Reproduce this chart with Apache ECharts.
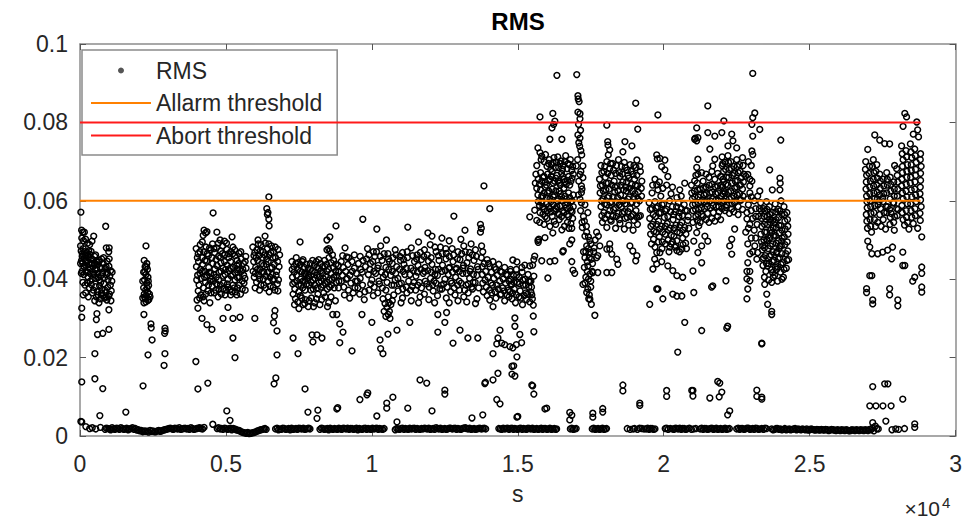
<!DOCTYPE html>
<html>
<head>
<meta charset="utf-8">
<script src="https://cdn.jsdelivr.net/npm/echarts@6/dist/echarts.min.js"></script>
<style>html,body{margin:0;padding:0;background:#fff;}#chart{width:965px;height:520px;}</style>
</head>
<body>
<div id="chart"></div>
<script>
const FONT = '"Liberation Sans", Arial, Helvetica, sans-serif';
const xTickLabels = ['0','0.5','1','1.5','2','2.5','3'];
const yTickLabels = ['0','0.02','0.04','0.06','0.08','0.1'];
const allarmThreshold = [[0,0.06],[28800,0.06]];
const abortThreshold = [[0,0.08],[28800,0.08]];

// RMS samples [time s, rms]
const rmsBaseline = [
[60,.0036],[200,.0024],[330,.0019],[420,.0021],[540,.0018],[700,.0022],
[860,.0017],[950,.0019],[1050,.0016],[1150,.0018],[1250,.0020],[1350,.0017],[1450,.0019],[1550,.0018],[1650,.0016],[1750,.0019],[1850,.0017],[1950,.0015],[2050,.0013],[2150,.0011],[2250,.0012],[2350,.0010],[2450,.0012],[2550,.0011],[2650,.0013],[2750,.0012],[2850,.0015],[2950,.0017],[3050,.0019],[3150,.0018],[3250,.0020],[3350,.0018],[3450,.0017],[3550,.0019],[3650,.0018],[3750,.0017],[3850,.0019],[3950,.0018],[4050,.0020],[4150,.0019],[4250,.0022],[4550,.0030],[4700,.0019],[4800,.0018],[4900,.0017],[5000,.0019],[5100,.0018],[5200,.0016],[5300,.0018],[5400,.0015],[5500,.0012],[5600,.0009],[5700,.0007],[5800,.0006],[5900,.0008],[6000,.0010],[6100,.0013],[6200,.0016],[6300,.0018],[6380,.0017],
[6700,.0018],[6800,.0016],[6900,.0017],[7000,.0019],[7100,.0018],[7200,.0016],[7300,.0017],[7400,.0019],[7500,.0020],[7600,.0018],[7700,.0017],[7800,.0019],[7880,.0018],
[8220,.0017],[8320,.0019],[8420,.0018],[8520,.0016],[8620,.0018],[8720,.0019],[8820,.0017],[8920,.0018],[9020,.0020],[9120,.0018],[9220,.0017],[9320,.0019],[9420,.0018],[9520,.0016],[9620,.0018],[9720,.0019],[9820,.0017],[9920,.0018],[10020,.0020],[10120,.0019],[10220,.0017],[10320,.0018],[10420,.0019],
[10800,.0016],[10900,.0018],[11000,.0019],[11100,.0017],[11200,.0018],[11300,.0020],[11400,.0019],[11500,.0017],[11600,.0018],[11700,.0019],[11800,.0020],[11900,.0018],[12000,.0017],[12100,.0019],[12200,.0021],[12300,.0018],[12400,.0017],[12500,.0019],[12600,.0018],[12700,.0020],[12800,.0019],[12900,.0017],[13000,.0018],[13100,.0019],[13200,.0021],[13300,.0018],[13400,.0017],[13500,.0019],[13600,.0018],[13700,.0020],[13800,.0019],[13900,.0018],
[14350,.0019],[14450,.0017],[14550,.0018],[14650,.0020],[14750,.0019],[14850,.0017],[14950,.0018],[15050,.0019],[15150,.0017],[15250,.0018],[15350,.0020],[15450,.0018],[15550,.0017],[15650,.0019],[15750,.0018],[15850,.0017],[15950,.0019],[16050,.0018],[16150,.0017],[16250,.0019],[16330,.0018],
[16800,.0018],[16900,.0017],[17000,.0019],
[17550,.0018],[17650,.0017],[17750,.0019],[17850,.0018],[17950,.0017],[18040,.0019],
[18750,.0019],[18950,.0018],[19100,.0017],[19250,.0019],[19400,.0018],[19500,.0017],[19600,.0019],[19700,.0018],
[20050,.0019],[20150,.0017],[20300,.0018],[20400,.0020],[20500,.0018],[20600,.0017],[20700,.0019],[20800,.0018],[20950,.0017],[21100,.0019],
[21250,.0018],[21350,.0017],[21450,.0019],[21550,.0018],[21650,.0020],[21750,.0018],[21850,.0017],[21950,.0019],[22050,.0018],[22150,.0017],[22250,.0019],
[22500,.0018],[22600,.0017],[22700,.0019],[22800,.0018],[22900,.0020],[23000,.0018],[23100,.0017],[23200,.0019],[23300,.0018],[23420,.0017],[23520,.0019],
[23700,.0018],[23800,.0017],[23900,.0019],[24000,.0018],[24100,.0017],[24200,.0016],[24300,.0018],[24400,.0017],[24500,.0019],[24600,.0018],[24700,.0016],[24800,.0017],[24900,.0018],[25000,.0016],[25100,.0017],[25200,.0015],[25300,.0016],[25400,.0017],[25500,.0015],[25600,.0016],[25700,.0015],[25800,.0016],[25900,.0014],[26000,.0015],[26100,.0016],[26200,.0014],[26300,.0015],[26400,.0014],[26500,.0015],[26600,.0016],[26700,.0014],[26800,.0015],[26900,.0016],[27000,.0014],[27050,.0017],
[27150,.0020],[27250,.0025],[27350,.0018],[27820,.0016],[27950,.0018],[28050,.0017],[28250,.0019],[28600,.0022]
];

const rmsBaseline2 = [
[900,.0020],[1000,.0018],[1100,.0021],[1200,.0017],[1300,.0019],[1400,.0021],[1500,.0017],[1600,.0020],[1700,.0018],[1800,.0021],[1900,.0019],[2000,.0016],[2100,.0014],[2200,.0013],[2300,.0012],[2400,.0014],[2500,.0013],[2600,.0011],[2700,.0014],[2800,.0013],[2900,.0016],[3000,.0018],[3100,.0020],[3200,.0017],[3300,.0019],[3400,.0021],[3500,.0018],[3600,.0020],[3700,.0019],[3800,.0021],[3900,.0017],[4000,.0019],[4100,.0021],[4200,.0018],[4750,.0021],[4850,.0019],[4950,.0020],[5050,.0017],[5150,.0020],[5250,.0019],[5350,.0016],[5450,.0014],[5550,.0010],[5650,.0008],[5750,.0009],[5850,.0007],[5950,.0009],[6050,.0012],[6150,.0015],[6250,.0017],[6340,.0019],
[6750,.0020],[6850,.0018],[6950,.0020],[7050,.0017],[7150,.0019],[7250,.0020],[7350,.0018],[7450,.0017],[7550,.0019],[7650,.0020],[7750,.0018],[7840,.0020],
[8270,.0020],[8370,.0017],[8470,.0019],[8570,.0020],[8670,.0017],[8770,.0018],[8870,.0020],[8970,.0017],[9070,.0019],[9170,.0020],[9270,.0019],[9370,.0017],[9470,.0020],[9570,.0019],[9670,.0017],[9770,.0020],[9870,.0019],[9970,.0017],[10070,.0018],[10170,.0020],[10270,.0019],[10370,.0017],
[10850,.0019],[10950,.0017],[11050,.0020],[11150,.0019],[11250,.0017],[11350,.0018],[11450,.0020],[11550,.0019],[11650,.0017],[11750,.0018],[11850,.0019],[11950,.0020],[12050,.0018],[12150,.0017],[12250,.0019],[12350,.0020],[12450,.0018],[12550,.0017],[12650,.0020],[12750,.0018],[12850,.0020],[12950,.0019],[13050,.0017],[13150,.0020],[13250,.0019],[13350,.0020],[13450,.0018],[13550,.0017],[13650,.0019],[13750,.0018],[13850,.0020],
[14400,.0018],[14500,.0020],[14600,.0019],[14700,.0017],[14800,.0020],[14900,.0019],[15000,.0017],[15100,.0020],[15200,.0019],[15300,.0017],[15400,.0019],[15500,.0020],[15600,.0018],[15700,.0017],[15800,.0020],[15900,.0019],[16000,.0017],[16100,.0020],[16200,.0018],[16300,.0017],
[16850,.0020],[16950,.0018],[17600,.0020],[17700,.0018],[17800,.0017],[17900,.0020],[18000,.0018],[18850,.0017],[19000,.0019],[19175,.0020],[19325,.0018],[19450,.0020],[19550,.0019],[19650,.0017],
[20100,.0020],[20225,.0019],[20350,.0017],[20450,.0019],[20550,.0020],[20650,.0019],[20750,.0017],[20875,.0020],[21025,.0018],
[21300,.0020],[21400,.0019],[21500,.0017],[21600,.0019],[21700,.0017],[21800,.0020],[21900,.0018],[22000,.0017],[22100,.0020],[22200,.0018],
[22550,.0020],[22650,.0019],[22750,.0017],[22850,.0020],[22950,.0017],[23050,.0019],[23150,.0020],[23250,.0017],[23360,.0019],[23470,.0020],
[23750,.0016],[23850,.0019],[23950,.0017],[24050,.0016],[24150,.0019],[24250,.0017],[24350,.0016],[24450,.0018],[24550,.0016],[24650,.0017],[24750,.0018],[24850,.0016],[24950,.0015],[25050,.0018],[25150,.0016],[25250,.0017],[25350,.0015],[25450,.0016],[25550,.0017],[25650,.0014],[25750,.0017],[25850,.0015],[25950,.0016],[26050,.0014],[26150,.0015],[26250,.0016],[26350,.0013],[26450,.0016],[26550,.0014],[26650,.0015],[26750,.0016],[26850,.0014],[26950,.0015],[27100,.0016],[27200,.0013],[27300,.0019]
];

const rmsSegA = [
[30,.0571],[880,.0535],[900,.0480],[60,.0505],[120,.0498],[190,.0502],[260,.0492],[330,.0488],[410,.0497],[470,.0510],
[40,.0472],[80,.0465],[110,.0478],[150,.0470],[200,.0461],[240,.0468],[290,.0455],[340,.0463],[380,.0471],[430,.0450],[500,.0458],[560,.0446],
[50,.0447],[90,.0441],[140,.0452],[180,.0436],[230,.0443],[270,.0430],[310,.0438],[360,.0426],[400,.0441],[450,.0432],[520,.0425],[590,.0437],[640,.0444],[690,.0430],[740,.0452],[800,.0440],[860,.0428],[930,.0446],[990,.0433],[1050,.0422],
[70,.0420],[130,.0412],[210,.0418],[280,.0405],[350,.0414],[420,.0400],[480,.0411],[540,.0402],[610,.0415],[660,.0398],[720,.0409],[780,.0417],[840,.0404],[900,.0412],[960,.0399],[1020,.0408],[1090,.0395],
[100,.0392],[170,.0385],[250,.0390],[320,.0378],[390,.0386],[460,.0372],[530,.0381],[600,.0368],[670,.0383],[750,.0374],[820,.0388],[880,.0366],[950,.0379],[1010,.0362],[1070,.0370],
[560,.0355],[620,.0360],[700,.0350],[770,.0358],[840,.0352],[920,.0347],[980,.0356],
[60,.0326],[60,.0303],[580,.0312],[560,.0297],[990,.0322],[600,.0259],[780,.0262],[990,.0272],[510,.0210],[60,.0138],[510,.0146],[780,.0121],[680,.0052],[1570,.0061],[30,.0037],[1000,.0480],[1000,.0452],
[20,.0485],[75,.0458],[135,.0432],[165,.0462],[215,.0447],[265,.0418],[300,.0472],[345,.0395],[395,.0452],[445,.0418],[490,.0440],[535,.0462],[575,.0425],[625,.0405],[665,.0448],[710,.0392],[760,.0428],[810,.0455],[850,.0372],[895,.0432],[945,.0415],[985,.0470],[1040,.0385],[1100,.0418],[20,.0440],[45,.0415],[110,.0360],[195,.0365],[285,.0355],[425,.0365],[505,.0345],[650,.0340],[735,.0365],[905,.0355],[1060,.0345],[150,.0520],[95,.0520],[55,.0525]
];

const rmsSegB = [
[2260,.0485],[2200,.0448],[2290,.0440],[2230,.0432],[2310,.0425],[2180,.0418],[2260,.0412],[2330,.0405],[2210,.0398],[2290,.0390],[2350,.0384],[2180,.0378],[2250,.0372],[2320,.0366],[2200,.0362],[2270,.0358],[2380,.0362],[2240,.0350],[2330,.0346],[2190,.0340],[2400,.0355],
[2190,.0310],[2430,.0286],[2440,.0276],[2470,.0245],[2330,.0207],[2160,.0128],[2910,.0275],[2920,.0268],[2900,.0262],[2910,.0210],[2880,.0180],
[2150,.0395],[2220,.0418],[2280,.0432],[2340,.0395],[2210,.0355],[2300,.0378],[2360,.0348],[2260,.0342],[2150,.0352]
];

const rmsSegC = [
[4560,.0569],[4250,.0525],[4300,.0518],[4350,.0521],[4220,.0512],[4690,.0520],[5210,.0508],[4800,.0500],[4950,.0497],
[3980,.0478],[4050,.0465],[4120,.0488],[4180,.0455],[4250,.0470],[4320,.0482],[4400,.0460],[4470,.0475],[4540,.0490],[4610,.0468],[4680,.0480],[4750,.0458],[4820,.0472],[4890,.0485],[4960,.0462],[5030,.0476],[5100,.0455],[5170,.0470],[5240,.0482],[5310,.0460],[5380,.0448],[5450,.0466],[5520,.0452],[5600,.0440],[5680,.0458],
[3990,.0432],[4060,.0445],[4130,.0425],[4200,.0438],[4270,.0420],[4340,.0446],[4410,.0430],[4480,.0415],[4550,.0440],[4620,.0426],[4690,.0435],[4760,.0418],[4830,.0442],[4900,.0428],[4970,.0412],[5040,.0436],[5110,.0422],[5180,.0408],[5250,.0430],[5320,.0416],[5390,.0425],[5460,.0405],[5530,.0420],[5610,.0410],[5690,.0428],
[4000,.0398],[4080,.0385],[4150,.0402],[4230,.0378],[4300,.0392],[4380,.0370],[4460,.0395],[4530,.0382],[4600,.0365],[4680,.0388],[4760,.0375],[4840,.0362],[4920,.0390],[5000,.0372],[5080,.0380],[5160,.0360],[5240,.0385],[5320,.0368],[5400,.0378],[5500,.0362],[5620,.0390],
[4010,.0347],[4040,.0326],[4180,.0300],[4350,.0284],[4520,.0272],[4100,.0352],[4250,.0345],[4450,.0340],[3970,.0190],[4040,.0120],[4380,.0135],[4900,.0300],[5240,.0300],[5480,.0303],[5070,.0328],[5240,.0250],[5310,.0200],[5030,.0064],[5140,.0040],[5990,.0300],
[4020,.0455],[4110,.0470],[4190,.0495],[4280,.0448],[4360,.0465],[4440,.0480],[4520,.0455],[4590,.0478],[4660,.0450],[4740,.0492],[4810,.0455],[4880,.0465],[4950,.0445],[5020,.0492],[5090,.0465],[5160,.0445],[5230,.0465],[5300,.0475],[5370,.0435],[5440,.0440],[5510,.0470],[5580,.0425],[5660,.0445],
[4030,.0410],[4110,.0415],[4190,.0420],[4270,.0405],[4350,.0410],[4430,.0418],[4510,.0400],[4590,.0412],[4670,.0405],[4750,.0398],[4830,.0420],[4910,.0408],[4990,.0425],[5070,.0400],[5150,.0428],[5230,.0412],[5310,.0398],[5390,.0405],[5470,.0425],[5560,.0395],[5650,.0402],
[4050,.0370],[4140,.0360],[4220,.0355],[4310,.0362],[4400,.0385],[4490,.0365],[4570,.0395],[4650,.0372],[4730,.0355],[4810,.0385],[4890,.0375],[4970,.0360],[5050,.0388],[5130,.0372],[5210,.0368],[5290,.0378],[5370,.0360],[5460,.0385],[5560,.0375],[5660,.0372]
];

const rmsSegD = [
[6470,.0610],[6400,.0580],[6440,.0570],[6420,.0565],[6470,.0553],[6480,.0536],[6100,.0500],[6340,.0510],
[5920,.0482],[5990,.0468],[6060,.0475],[6130,.0460],[6200,.0488],[6270,.0470],[6350,.0492],[6420,.0478],[6490,.0462],[6560,.0485],[6630,.0470],[6700,.0455],[6780,.0476],
[5950,.0445],[6020,.0430],[6090,.0448],[6160,.0425],[6230,.0440],[6300,.0418],[6380,.0438],[6450,.0445],[6520,.0428],[6590,.0412],[6660,.0438],[6740,.0420],[6820,.0432],
[5970,.0405],[6050,.0392],[6120,.0410],[6200,.0385],[6280,.0400],[6360,.0378],[6440,.0395],[6520,.0382],[6600,.0398],[6680,.0372],[6760,.0388],
[6680,.0320],[6660,.0306],[6630,.0289],[6750,.0268],[6750,.0207],[6710,.0148],[6650,.0133],
[5960,.0460],[6030,.0455],[6110,.0490],[6180,.0472],[6250,.0455],[6330,.0462],[6400,.0452],[6470,.0490],[6540,.0468],[6610,.0455],[6690,.0482],[6770,.0445],[6840,.0462],[5930,.0420],[6010,.0415],[6080,.0425],[6150,.0400],[6220,.0418],[6290,.0435],[6370,.0408],[6440,.0418],[6510,.0405],[6580,.0430],[6650,.0400],[6720,.0410],[6800,.0398],[6000,.0378],[6150,.0372],[6300,.0385],[6480,.0368],[6620,.0380],[6780,.0370]
];

const rmsSegE = [
[7540,.0495],[7640,.0450],[8460,.0500],[8560,.0508],[8460,.0475],[8520,.0478],[8560,.0472],[8770,.0536],[8650,.0462],
[7260,.0445],[7330,.0432],[7400,.0440],[7470,.0425],[7540,.0436],[7610,.0418],[7680,.0430],[7750,.0412],[7820,.0428],[7890,.0440],[7960,.0422],[8030,.0435],[8100,.0445],[8170,.0428],[8240,.0440],[8310,.0432],[8380,.0448],[8450,.0438],[8520,.0425],[8600,.0442],[8680,.0430],[8760,.0420],[8850,.0435],
[7280,.0405],[7350,.0392],[7420,.0410],[7490,.0385],[7560,.0400],[7630,.0378],[7700,.0395],[7770,.0388],[7840,.0405],[7910,.0372],[7980,.0398],[8050,.0385],[8120,.0410],[8190,.0392],[8260,.0380],[8330,.0402],[8400,.0390],[8470,.0375],[8540,.0398],[8620,.0385],[8700,.0405],[8780,.0392],[8860,.0378],
[7300,.0362],[7380,.0350],[7460,.0342],[7550,.0358],[7640,.0335],[7730,.0348],[7820,.0330],[7930,.0352],[8040,.0340],[8150,.0362],[8280,.0348],[8400,.0355],[8520,.0340],
[7300,.0250],[7470,.0210],[7950,.0258],[8120,.0258],[8290,.0250],[7980,.0240],[7710,.0120],[7810,.0061],[8150,.0066],[8120,.0045],[8660,.0310],[8800,.0310],[8900,.0286],[9010,.0265],[8900,.0238],[8800,.0069],[8830,.0072],[9320,.0217],[9590,.0093],[9830,.0105],
[7270,.0425],[7340,.0418],[7410,.0455],[7480,.0442],[7550,.0420],[7620,.0445],[7690,.0415],[7760,.0438],[7830,.0410],[7900,.0425],[7970,.0448],[8040,.0418],[8110,.0430],[8180,.0450],[8250,.0422],[8320,.0415],[8390,.0432],[8460,.0420],[8530,.0455],[8610,.0415],[8690,.0448],[8770,.0438],[8860,.0418],
[7290,.0388],[7360,.0375],[7430,.0395],[7500,.0368],[7570,.0385],[7640,.0395],[7710,.0372],[7780,.0402],[7850,.0385],[7920,.0392],[7990,.0375],[8060,.0402],[8130,.0378],[8200,.0405],[8270,.0395],[8340,.0385],[8410,.0408],[8480,.0392],[8550,.0380],[8630,.0398],[8710,.0378],[8790,.0410],[8870,.0395],
[7350,.0335],[7500,.0325],[7600,.0352],[7700,.0338],[7850,.0345],[8000,.0330],[8100,.0350],[8220,.0335],[8350,.0365],[8480,.0330],[8600,.0355],[8750,.0345]
];

const rmsSegF = [
[9080,.0480],[9140,.0457],[9690,.0553],[9660,.0310],
[8950,.0445],[9020,.0430],[9100,.0420],[9180,.0438],[9250,.0410],[9320,.0445],[9400,.0428],[9470,.0415],[9540,.0440],[9620,.0425],[9700,.0448],[9780,.0432],
[8960,.0395],[9040,.0380],[9120,.0400],[9200,.0372],[9280,.0390],[9360,.0365],[9440,.0395],[9520,.0378],[9600,.0402],[9680,.0385],[9760,.0368],
[9000,.0460],[9200,.0455],[9400,.0462],[9600,.0458],[8990,.0410],[9160,.0402],[9330,.0420],[9500,.0395],[9670,.0418],[9060,.0360],[9240,.0352],[9420,.0378],[9580,.0362],[9740,.0348]
];

const rmsSegG = [
[10170,.0528],[11230,.0533],[12810,.0561],[13190,.0525],[11920,.0518],[12060,.0510],[13720,.0540],[13750,.0530],[10500,.0500],[11600,.0495],[12400,.0505],[12650,.0498],[13050,.0502],[13400,.0490],
[9850,.0478],[10050,.0470],[10300,.0485],[10550,.0465],[10800,.0475],[11050,.0468],[11350,.0480],[11550,.0462],[11800,.0475],[12000,.0488],[12200,.0470],[12350,.0482],[12550,.0466],[12750,.0478],[12950,.0470],[13150,.0485],[13350,.0468],[13550,.0475],
[9820,.0452],[9950,.0440],[10100,.0458],[10220,.0435],[10350,.0448],[10480,.0430],[10600,.0445],[10720,.0455],[10850,.0432],[10980,.0448],[11100,.0438],[11220,.0455],[11340,.0428],[11460,.0445],[11580,.0435],[11700,.0450],[11820,.0430],[11940,.0446],[12060,.0438],[12180,.0425],[12300,.0448],[12420,.0436],[12540,.0452],[12660,.0430],[12780,.0445],[12900,.0428],[13020,.0450],[13140,.0435],[13260,.0442],[13380,.0426],[13500,.0448],[13620,.0432],
[9880,.0412],[10000,.0398],[10130,.0415],[10260,.0388],[10390,.0405],[10520,.0392],[10640,.0410],[10760,.0385],[10890,.0402],[11010,.0390],[11130,.0412],[11260,.0395],[11390,.0382],[11510,.0408],[11630,.0392],[11760,.0415],[11880,.0388],[12010,.0402],[12130,.0395],[12250,.0410],[12380,.0385],[12500,.0400],[12620,.0412],[12740,.0390],[12870,.0405],[12990,.0395],[13110,.0415],[13230,.0385],[13350,.0402],[13470,.0392],[13600,.0410],
[9900,.0372],[10050,.0358],[10200,.0365],[10380,.0350],[10450,.0338],[10520,.0328],[10600,.0318],[10650,.0335],[10750,.0360],[10900,.0370],[11050,.0352],[11200,.0365],[11350,.0345],[11500,.0372],[11650,.0355],[11800,.0362],[11950,.0348],[12100,.0370],[12250,.0358],[12400,.0375],[12550,.0352],[12700,.0368],[12850,.0360],[13000,.0372],[13150,.0355],[13300,.0365],[13450,.0375],[13600,.0350],
[10480,.0305],[10560,.0310],[10620,.0300],[10000,.0290],[11300,.0290],[10280,.0245],[10300,.0223],[10380,.0210],[10550,.0260],[10860,.0270],[12260,.0265],[12500,.0290],[12260,.0310],[12560,.0315],[12780,.0237],[13020,.0270],[13290,.0250],[13630,.0250],[11650,.0143],[11880,.0135],[12500,.0117],[12500,.0107],[9860,.0110],[10510,.0084],[10510,.0071],[10720,.0099],[11230,.0071],[12060,.0064],[10170,.0051],[10860,.0036],[13430,.0046],
[9900,.0462],[10030,.0445],[10160,.0470],[10290,.0458],[10420,.0465],[10570,.0452],[10700,.0440],[10830,.0462],[10960,.0458],[11090,.0450],[11210,.0470],[11400,.0460],[11530,.0452],[11660,.0468],[11780,.0458],[11900,.0462],[12030,.0455],[12160,.0482],[12280,.0460],[12410,.0465],[12530,.0478],[12650,.0458],[12800,.0462],[12930,.0452],[13080,.0465],[13200,.0470],[13320,.0455],[13440,.0462],[13580,.0458],
[9930,.0425],[10070,.0420],[10200,.0428],[10330,.0418],[10460,.0412],[10580,.0425],[10700,.0420],[10820,.0415],[10950,.0425],[11070,.0420],[11180,.0428],[11300,.0412],[11420,.0422],[11560,.0418],[11680,.0425],[11800,.0420],[11920,.0422],[12040,.0418],[12160,.0412],[12280,.0425],[12400,.0420],[12520,.0422],[12640,.0428],[12760,.0418],[12880,.0425],[13000,.0420],[13120,.0428],[13240,.0415],[13360,.0420],[13480,.0412],[13640,.0425],
[9960,.0388],[10080,.0380],[10240,.0395],[10360,.0378],[10480,.0372],[10560,.0355],[10680,.0385],[10800,.0398],[10940,.0388],[11060,.0375],[11180,.0380],[11320,.0372],[11440,.0392],[11570,.0385],[11700,.0378],[11830,.0395],[11960,.0380],[12080,.0385],[12200,.0390],[12330,.0375],[12460,.0388],[12580,.0380],[12700,.0395],[12820,.0378],[12940,.0385],[13060,.0390],[13180,.0372],[13300,.0388],[13420,.0380],[13540,.0392],[13660,.0378],
[10420,.0318],[10580,.0340],[10700,.0345],[11000,.0340],[11600,.0340],[12150,.0340],[12650,.0340],[12950,.0345],[13250,.0342],[13550,.0338]
];

const rmsSegH = [
[13840,.0638],[14040,.0580],[13720,.0520],[13760,.0485],[13800,.0470],
[13750,.0455],[13850,.0440],[13950,.0450],[14050,.0432],[14150,.0445],[14250,.0425],[14350,.0438],[14450,.0418],[14550,.0430],[14650,.0410],[14750,.0425],
[13780,.0412],[13880,.0398],[13980,.0405],[14080,.0390],[14180,.0402],[14280,.0385],[14380,.0395],[14480,.0378],[14580,.0390],[14680,.0372],[14780,.0385],
[13820,.0368],[13950,.0358],[14100,.0365],[14250,.0352],[14400,.0360],[14550,.0345],[14700,.0355],
[14040,.0347],[14150,.0330],[14390,.0270],[14320,.0250],[14280,.0235],[14450,.0237],[14550,.0233],[14730,.0228],[14150,.0210],[14800,.0178],[14800,.0158],[13870,.0134],[13890,.0137],[14150,.0143],[14320,.0160],[14280,.0093],[14390,.0082],[13800,.0054],
[13780,.0432],[13900,.0420],[14000,.0440],[14100,.0418],[14200,.0430],[14300,.0410],[14400,.0420],[14500,.0400],[14600,.0412],[14700,.0395],[13800,.0390],[13920,.0380],[14030,.0372],[14130,.0385],[14230,.0368],[14330,.0375],[14430,.0362],[14530,.0370],[14630,.0360],[14730,.0368]
];

const rmsSegI = [
[14830,.0449],[14970,.0444],[15140,.0430],[15240,.0436],[15410,.0434],[15510,.0436],
[14750,.0420],[14850,.0410],[14950,.0425],[15050,.0405],[15150,.0418],[15250,.0400],[15350,.0412],[15450,.0395],[15550,.0408],
[14780,.0388],[14880,.0375],[14980,.0392],[15080,.0370],[15180,.0385],[15280,.0365],[15380,.0380],[15480,.0360],
[14800,.0350],[14920,.0340],[15040,.0355],[15160,.0335],[15300,.0348],
[15410,.0393],[15450,.0367],[15410,.0342],[15530,.0334],[15530,.0306],[15550,.0266],[14900,.0280],[14900,.0301],[15070,.0259],[15130,.0238],[14950,.0233],[14830,.0225],[14970,.0202],[14860,.0179],[14900,.0153],[15510,.0128],[15550,.0107],[15930,.0069],[14970,.0048],[15480,.0130],[15000,.0050],
[14760,.0400],[14870,.0392],[14960,.0410],[15060,.0388],[15170,.0398],[15270,.0385],[15370,.0395],[15470,.0380],[14820,.0365],[14950,.0360],[15100,.0352],[15220,.0358],[15340,.0362],[15500,.0350]
];

const rmsSegJ = [
[15760,.0814],[16200,.0823],[16340,.0920],[16170,.0786],[16230,.0795],[16270,.0803],[16100,.0757],[16510,.0757],[15690,.0735],[15760,.0723],[15820,.0714],
[15900,.0700],[16000,.0688],[16080,.0705],[16160,.0692],[16240,.0710],[16320,.0698],[16400,.0685],[16480,.0702],[16560,.0690],[16640,.0715],[16720,.0695],[16800,.0705],[16880,.0688],
[15620,.0668],[15700,.0655],[15780,.0672],[15860,.0660],[15940,.0648],[16020,.0668],[16100,.0655],[16180,.0675],[16260,.0650],[16340,.0665],[16420,.0645],[16500,.0670],[16580,.0655],[16660,.0642],[16740,.0662],[16820,.0650],[16900,.0668],
[15650,.0632],[15690,.0615],[15780,.0628],[15860,.0612],[15940,.0635],[16020,.0620],[16100,.0605],[16180,.0630],[16260,.0615],[16340,.0600],[16420,.0625],[16500,.0610],[16580,.0632],[16660,.0605],[16740,.0620],[16820,.0598],[16900,.0615],
[15740,.0588],[15820,.0595],[15900,.0578],[15980,.0592],[16060,.0585],[16140,.0572],[16220,.0590],[16300,.0580],[16380,.0568],[16460,.0586],[16540,.0575],[16620,.0590],[16700,.0565],[16780,.0582],[16860,.0572],
[15410,.0559],[15580,.0576],[15860,.0566],[15650,.0550],[16000,.0555],[16250,.0548],[16420,.0552],[16700,.0545],[16880,.0555],[16850,.0530],[16820,.0542],
[15690,.0499],[15700,.0494],[15720,.0502],[15930,.0506],[16200,.0518],[16510,.0526],
[15580,.0459],[15550,.0450],[15820,.0447],[16100,.0445],[16270,.0447],[16030,.0403],[16540,.0470],[16560,.0473],[16850,.0445],[16890,.0423],[16950,.0415],[16780,.0490],[16850,.0500],
[15650,.0690],[15800,.0705],[15950,.0718],[16050,.0695],[16130,.0680],[16210,.0698],[16290,.0685],[16370,.0712],[16450,.0695],[16530,.0680],[16610,.0700],[16690,.0682],[16770,.0692],[16850,.0678],
[15600,.0645],[15740,.0642],[15820,.0650],[15900,.0662],[15980,.0640],[16060,.0652],[16140,.0662],[16220,.0645],[16300,.0658],[16380,.0650],[16460,.0640],[16540,.0662],[16620,.0648],[16700,.0652],[16780,.0640],[16860,.0658],
[15700,.0598],[15820,.0612],[15900,.0620],[15980,.0608],[16060,.0625],[16140,.0598],[16220,.0610],[16300,.0625],[16380,.0605],[16460,.0618],[16540,.0600],[16620,.0612],[16700,.0595],[16780,.0608],[16860,.0600],
[15760,.0570],[15860,.0585],[15940,.0560],[16020,.0575],[16100,.0580],[16180,.0560],[16260,.0575],[16340,.0585],[16420,.0565],[16500,.0560],[16580,.0570],[16660,.0582],[16740,.0560],[16820,.0575],[16900,.0585],
[15750,.0545],[15900,.0540],[16100,.0535],[16300,.0540],[16600,.0535],[16750,.0530]
];

const rmsSegK = [
[17020,.0922],[17060,.0868],[17070,.0860],[17100,.0853],[17060,.0826],[17130,.0822],[17130,.0809],[17060,.0768],[17130,.0760],[17120,.0739],[17190,.0717],[17000,.0689],[17230,.0689],[17130,.0667],[17230,.0659],[17180,.0638],[17180,.0621],[17130,.0604],
[17080,.0795],[17150,.0780],[17090,.0748],[17160,.0728],[17050,.0705],[17160,.0675],[17090,.0650],[17200,.0630],[17080,.0615]
];

const rmsSegL = [
[17200,.0545],[17210,.0532],[17360,.0520],[17470,.0499],[17360,.0485],[17470,.0468],[17520,.0451],[17400,.0434],[17470,.0413],[17230,.0387],[17360,.0366],[17470,.0349],[17520,.0336],[17640,.0308],[17740,.0460],[17810,.0485],
[17150,.0575],[17250,.0560],[17300,.0590],[17400,.0570],[17300,.0510],[17420,.0478],[17300,.0455],[17380,.0445],[17420,.0400],[17300,.0390],[17400,.0375],[17450,.0360],[17500,.0380],[17550,.0420],[17600,.0470],[17650,.0500],[17700,.0520],[17250,.0470],[17280,.0430],
[17180,.0595],[17280,.0548],[17350,.0535],[17420,.0508],[17500,.0490],[17330,.0470],[17450,.0455],[17380,.0420],[17330,.0405],[17500,.0395],[17430,.0350],[17560,.0440],[17620,.0480],[17700,.0455],[17760,.0510]
];

const rmsSegM = [
[18050,.0793],[18080,.0751],[18090,.0742],[18150,.0730],[18100,.0717],[18600,.0725],[18670,.0751],[18910,.0740],[19040,.0849],[19110,.0783],[19080,.0704],
[17850,.0690],[17950,.0675],[18050,.0700],[18150,.0682],[18250,.0695],[18350,.0670],[18450,.0705],[18550,.0688],[18650,.0698],[18750,.0678],[18850,.0692],[18950,.0668],[19050,.0685],[19200,.0675],
[17800,.0655],[17900,.0640],[18000,.0660],[18100,.0645],[18200,.0665],[18300,.0650],[18400,.0638],[18500,.0662],[18600,.0648],[18700,.0635],[18800,.0658],[18900,.0642],[19000,.0655],[19100,.0638],[19250,.0650],
[17820,.0620],[17920,.0605],[18020,.0628],[18120,.0612],[18220,.0598],[18320,.0622],[18420,.0608],[18520,.0615],[18620,.0600],[18720,.0625],[18820,.0610],[18920,.0596],[19020,.0618],[19120,.0605],[19240,.0612],
[17850,.0585],[17950,.0570],[18050,.0590],[18150,.0575],[18250,.0560],[18350,.0582],[18450,.0568],[18550,.0585],[18650,.0572],[18750,.0558],[18850,.0580],[18950,.0565],[19050,.0575],[19150,.0560],
[17900,.0545],[18050,.0532],[18200,.0548],[18350,.0530],[18500,.0542],[18650,.0528],[18800,.0538],[18950,.0525],[19100,.0540],
[18150,.0490],[18050,.0477],[18150,.0477],[18220,.0464],[18390,.0451],[18430,.0438],[18840,.0485],[18940,.0472],[19080,.0460],[19040,.0447],[17570,.0417],[17740,.0417],[18050,.0417],[18220,.0417],[18600,.0130],[19180,.0084],[17910,.0070],[17570,.0058],[16780,.0060],[16780,.0041],[15990,.0071],[18600,.0115],[19180,.0078],[17910,.0061],[17570,.0048],[16850,.0053],
[17880,.0672],[17980,.0688],[18080,.0670],[18180,.0695],[18280,.0678],[18380,.0690],[18480,.0672],[18580,.0668],[18680,.0685],[18780,.0665],[18880,.0675],[18980,.0690],[19080,.0665],[19180,.0688],
[17830,.0638],[17930,.0625],[18030,.0645],[18130,.0630],[18230,.0640],[18330,.0635],[18430,.0625],[18530,.0640],[18630,.0628],[18730,.0648],[18830,.0632],[18930,.0625],[19030,.0640],[19130,.0622],[19230,.0632],
[17870,.0600],[17970,.0592],[18070,.0608],[18170,.0595],[18270,.0610],[18370,.0598],[18470,.0590],[18570,.0600],[18670,.0592],[18770,.0605],[18870,.0595],[18970,.0608],[19070,.0592],[19170,.0600],
[17880,.0562],[17980,.0555],[18080,.0565],[18180,.0552],[18280,.0578],[18380,.0560],[18480,.0552],[18580,.0568],[18680,.0555],[18780,.0572],[18880,.0560],[18980,.0550],[19080,.0558],[19200,.0562]
];

const rmsSegN = [
[19800,.0819],[19760,.0717],[19780,.0707],[19870,.0708],[20040,.0704],[19930,.0687],[20040,.0679],[20140,.0662],[19760,.0641],[19800,.0628],[19970,.0632],[20550,.0628],[20720,.0645],
[19500,.0595],[19600,.0580],[19700,.0598],[19800,.0585],[19900,.0570],[20000,.0592],[20100,.0578],[20200,.0600],[20300,.0585],[20400,.0572],[20500,.0595],[20600,.0580],[20700,.0590],[20800,.0575],
[19520,.0555],[19620,.0540],[19720,.0560],[19820,.0548],[19920,.0535],[20020,.0558],[20120,.0542],[20220,.0530],[20320,.0552],[20420,.0538],[20520,.0560],[20620,.0545],[20720,.0532],[20820,.0550],
[19550,.0515],[19650,.0502],[19750,.0520],[19850,.0508],[19950,.0495],[20050,.0515],[20150,.0500],[20250,.0490],[20350,.0510],[20450,.0498],[20550,.0518],[20650,.0505],[20750,.0492],
[19600,.0620],[19900,.0612],[20250,.0618],[20450,.0608],
[19760,.0468],[19690,.0451],[19630,.0426],[19760,.0375],[19520,.0336],[19870,.0468],[19760,.0439],[19930,.0445],[20210,.0482],[20380,.0482],[20450,.0473],[20620,.0477],[20140,.0434],[20310,.0422],[20450,.0409],[20650,.0405],[19800,.0375],[19970,.0350],[20310,.0362],[20450,.0357],[20620,.0357],[20720,.0290],[20480,.0214],[20100,.0116],[20960,.0116],[20100,.0101],[21000,.0102],
[19540,.0578],[19640,.0565],[19740,.0582],[19840,.0568],[19940,.0590],[20040,.0575],[20140,.0560],[20240,.0572],[20340,.0565],[20440,.0585],[20540,.0570],[20640,.0562],[20740,.0575],[20840,.0560],
[19560,.0535],[19660,.0522],[19760,.0540],[19860,.0528],[19960,.0520],[20060,.0535],[20160,.0525],[20260,.0512],[20360,.0530],[20460,.0520],[20560,.0538],[20660,.0525],[20760,.0515],[20860,.0530],
[19580,.0490],[19700,.0482],[19820,.0495],[19940,.0478],[20060,.0490],[20180,.0470],[20300,.0495],[20420,.0485],[20540,.0470],[20660,.0488],[20780,.0478],
[19620,.0640],[19700,.0655],[19850,.0648],[20100,.0640],[20300,.0635],[20600,.0612]
];

const rmsSegO = [
[21130,.0786],[21060,.0757],[21080,.0760],[21130,.0753],[21170,.0761],[21510,.0842],[21510,.0774],[21750,.0765],[21990,.0774],[21580,.0732],[21750,.0706],[21680,.0689],[21170,.0706],[21130,.0685],[21170,.0668],[21060,.0651],
[20950,.0640],[21050,.0625],[21150,.0645],[21250,.0630],[21350,.0650],[21450,.0635],[21550,.0660],[21650,.0642],[21750,.0655],[21850,.0638],[21950,.0662],[22050,.0648],
[20980,.0605],[21080,.0592],[21180,.0610],[21280,.0598],[21380,.0615],[21480,.0600],[21580,.0620],[21680,.0605],[21780,.0618],[21880,.0600],[21980,.0612],[22080,.0598],
[21000,.0575],[21100,.0560],[21200,.0578],[21300,.0565],[21400,.0580],[21500,.0568],[21600,.0582],[21700,.0570],[21800,.0585],[21900,.0572],[22000,.0580],
[21170,.0566],[21200,.0536],[21130,.0519],[21030,.0497],[21410,.0510],[21510,.0497],[21300,.0485],[21170,.0468],[21300,.0442],[21000,.0421],[21030,.0366],[21680,.0383],[21300,.0269],[21000,.0116],[21580,.0097],[21850,.0139],[21990,.0112],[21640,.0380],[21900,.0100],[21920,.0135],
[20960,.0620],[21060,.0610],[21160,.0628],[21260,.0615],[21360,.0632],[21460,.0618],[21560,.0640],[21660,.0622],[21760,.0636],[21860,.0620],[21960,.0640],[22060,.0625],
[20990,.0590],[21090,.0578],[21190,.0595],[21290,.0582],[21390,.0598],[21490,.0585],[21590,.0600],[21690,.0588],[21790,.0602],[21890,.0585],[21990,.0596],
[21000,.0545],[21150,.0550],[21250,.0545],[21350,.0560],[21450,.0552],[21550,.0545],[21650,.0555],[21750,.0548],[21850,.0560],[21950,.0552],
[21100,.0665],[21300,.0672],[21450,.0668],[21650,.0675],[21850,.0670],[22000,.0690]
];

const rmsSegP = [
[22060,.0804],[22330,.0770],[22370,.0753],[22200,.0740],[22500,.0735],
[22000,.0712],[22100,.0698],[22200,.0715],[22300,.0700],[22400,.0688],[22500,.0705],[22600,.0692],[22700,.0710],
[22050,.0675],[22150,.0660],[22250,.0680],[22350,.0665],[22450,.0650],[22550,.0672],[22650,.0658],[22750,.0668],
[22000,.0635],[22100,.0620],[22200,.0640],[22300,.0625],[22400,.0612],[22500,.0635],[22600,.0618],[22700,.0630],
[22050,.0600],[22150,.0590],[22250,.0605],[22350,.0592],[22450,.0598],[22550,.0585],[22650,.0602],
[22130,.0583],[22330,.0579],[22430,.0528],[22330,.0502],[22260,.0485],[22330,.0464],[22130,.0396],[22190,.0280],[22260,.0064],[22160,.0275],[22190,.0054],
[22020,.0695],[22120,.0680],[22220,.0698],[22320,.0682],[22420,.0670],[22520,.0688],[22620,.0675],[22720,.0690],
[22030,.0655],[22130,.0642],[22230,.0660],[22330,.0645],[22430,.0632],[22530,.0652],[22630,.0640],[22730,.0648],
[22020,.0618],[22120,.0605],[22220,.0622],[22320,.0608],[22420,.0595],[22520,.0615],[22620,.0602],[22720,.0612],
[22100,.0575],[22250,.0568],[22400,.0572],[22550,.0565],[22700,.0578]
];

const rmsSegQ = [
[23050,.0925],[23120,.0824],[23050,.0812],[23020,.0795],[23050,.0765],[23020,.0727],[23050,.0718],[23290,.0782],[22880,.0667],[23020,.0650],[22950,.0638],[22810,.0663],[22950,.0655],[23290,.0625],[23220,.0612],[22850,.0554],[22810,.0520],[22880,.0490],[22880,.0442],[22850,.0401],[22950,.0396],[22880,.0375],[22850,.0350],[23120,.0485],[23220,.0468],[23190,.0451],[23360,.0235],[23190,.0117],[23360,.0099],
[22900,.0700],[23000,.0690],[22950,.0620],[23100,.0600],[22900,.0590],[23000,.0575],[23150,.0560],[22950,.0540],[23100,.0525],[23000,.0505],[23200,.0540],[23280,.0580],
[22880,.0605],[23000,.0610],[23150,.0580],[22850,.0570],[23050,.0555],[23250,.0560],[22900,.0530],[23150,.0505],[22950,.0465],[23050,.0470],[22850,.0420],[22950,.0420]
];

const rmsSegR = [
[23630,.0679],[23980,.0658],[23980,.0628],[23720,.0628],[24010,.0755],[23990,.0645],
[23320,.0595],[23420,.0580],[23520,.0598],[23620,.0585],[23720,.0570],[23820,.0592],[23920,.0578],[24020,.0600],[24120,.0585],[24220,.0570],
[23350,.0555],[23450,.0540],[23550,.0560],[23650,.0545],[23750,.0530],[23850,.0552],[23950,.0538],[24050,.0525],[24150,.0548],[24250,.0535],
[23330,.0515],[23430,.0500],[23530,.0520],[23630,.0505],[23730,.0490],[23830,.0512],[23930,.0498],[24030,.0485],[24130,.0508],[24230,.0495],
[23380,.0475],[23480,.0460],[23580,.0478],[23680,.0462],[23780,.0448],[23880,.0470],[23980,.0455],[24080,.0442],[24180,.0465],[24280,.0450],
[23400,.0435],[23500,.0420],[23600,.0440],[23700,.0425],[23800,.0410],[23900,.0432],[24000,.0418],[24100,.0405],[24200,.0428],
[23460,.0574],[23630,.0553],[23800,.0545],[23700,.0519],[23530,.0502],[23390,.0485],[23870,.0468],[23980,.0485],[24040,.0497],[23390,.0451],[23560,.0434],[23730,.0417],[23870,.0425],[23460,.0387],[23700,.0392],[23530,.0362],[23560,.0336],[23700,.0318],[23980,.0574],[24010,.0536],[23700,.0310],[23360,.0237],[23190,.0101],[23360,.0094],
[23340,.0575],[23440,.0560],[23540,.0578],[23640,.0565],[23740,.0550],[23840,.0572],[23940,.0558],[24040,.0565],[24140,.0565],[24240,.0552],
[23360,.0535],[23460,.0520],[23560,.0540],[23660,.0525],[23760,.0510],[23860,.0532],[23960,.0518],[24060,.0505],[24160,.0528],[24260,.0515],
[23350,.0495],[23450,.0480],[23550,.0498],[23650,.0485],[23750,.0470],[23850,.0492],[23950,.0478],[24050,.0465],[24150,.0488],[24250,.0472],
[23420,.0455],[23520,.0440],[23620,.0458],[23720,.0445],[23820,.0430],[23920,.0452],[24020,.0438],[24120,.0425],[24220,.0448],
[23450,.0405],[23600,.0398],[23750,.0405],[23900,.0395],[24050,.0400]
];

const rmsSegS = [
[28260,.0823],[28320,.0814],[28670,.0801],[28700,.0781],[28730,.0763],[27230,.0768],[27400,.0755],[27570,.0746],[27740,.0745],[26990,.0731],[27910,.0690],[27980,.0682],[28200,.0790],[28550,.0770],
[26920,.0700],[27050,.0688],[27180,.0705],[27300,.0692],[26950,.0665],[27080,.0650],[27200,.0672],[27320,.0658],[26930,.0630],[27060,.0618],[27190,.0638],[27310,.0622],[26960,.0598],[27090,.0585],[27220,.0605],[27340,.0590],[26940,.0565],[27070,.0552],[27200,.0570],[27330,.0545],[26980,.0530],[27120,.0520],[27260,.0535],
[27400,.0668],[27520,.0655],[27640,.0672],[27760,.0660],[27880,.0648],[28000,.0665],[27420,.0632],[27540,.0618],[27660,.0640],[27780,.0625],[27900,.0612],[28020,.0630],[27380,.0598],[27500,.0607],[27620,.0585],[27740,.0578],[27860,.0595],[27980,.0580],[27400,.0565],[27520,.0552],[27640,.0570],[27760,.0558],[27880,.0545],[28000,.0562],[27450,.0535],[27600,.0528],[27750,.0540],[27900,.0525],
[28150,.0740],[28300,.0728],[28450,.0745],[28600,.0732],[28800,.0720],[28200,.0705],[28350,.0692],[28500,.0710],[28650,.0698],[28820,.0688],[28180,.0672],[28330,.0660],[28480,.0678],[28630,.0665],[28800,.0652],[28150,.0638],[28300,.0625],[28450,.0645],[28600,.0630],[28780,.0618],[28200,.0605],[28350,.0592],[28500,.0610],[28650,.0598],[28820,.0585],[28170,.0570],[28320,.0558],[28470,.0575],[28620,.0562],[28790,.0550],[28250,.0538],[28400,.0528],[28550,.0542],[28700,.0530],
[26990,.0497],[27060,.0482],[27130,.0465],[27330,.0465],[27500,.0469],[27670,.0474],[27840,.0482],[27810,.0452],[28190,.0469],[28190,.0435],[28840,.0508],[27060,.0409],[27130,.0409],[26950,.0376],[27160,.0347],[27740,.0376],[28020,.0347],[28600,.0405],[28840,.0380],[28840,.0431],[28260,.0435],[28840,.0367],[28840,.0415],[28530,.0395],[28020,.0332],[26950,.0366],[27160,.0337],[27740,.0360],
[27160,.0126],[27570,.0133],[27680,.0133],[27060,.0077],[27270,.0077],[27510,.0077],[27790,.0077],[28190,.0094],[27160,.0034],[27610,.0038],[28600,.0031],
[26910,.0680],[27030,.0670],[27150,.0688],[27270,.0675],[26940,.0648],[27060,.0635],[27180,.0655],[27300,.0640],[26950,.0612],[27070,.0600],[27200,.0620],[27320,.0605],[26970,.0582],[27100,.0568],[27230,.0588],[26960,.0548],[27090,.0535],[27220,.0552],
[27420,.0650],[27540,.0638],[27660,.0655],[27780,.0642],[27900,.0630],[28020,.0648],[27400,.0615],[27520,.0598],[27640,.0620],[27760,.0605],[27880,.0595],[28000,.0612],[27430,.0580],[27550,.0570],[27670,.0585],[27790,.0568],[27910,.0560],[28030,.0578],
[28170,.0720],[28320,.0712],[28470,.0725],[28620,.0715],[28790,.0705],[28180,.0688],[28330,.0675],[28480,.0692],[28630,.0680],[28800,.0670],[28160,.0655],[28310,.0642],[28460,.0660],[28610,.0648],[28790,.0635],[28180,.0620],[28330,.0610],[28480,.0628],[28630,.0615],[28800,.0602],[28160,.0588],[28310,.0575],[28460,.0592],[28610,.0580],[28780,.0568],[28200,.0552],[28350,.0545],[28500,.0558]
];

const rmsData = [].concat(rmsBaseline, rmsBaseline2, rmsSegA, rmsSegB, rmsSegC, rmsSegD, rmsSegE, rmsSegF, rmsSegG, rmsSegH, rmsSegI, rmsSegJ, rmsSegK, rmsSegL, rmsSegM, rmsSegN, rmsSegO, rmsSegP, rmsSegQ, rmsSegR, rmsSegS);

const TXT = '#262626';
const AXC = '#8c8c8c';
const chart = echarts.init(document.getElementById('chart'), null, {renderer: 'svg'});

function xAx(pos, showLabel) {
  return {
    type: 'value', min: 0, max: 30000, interval: 5000, position: pos,
    axisLine: {show: true, onZero: false, lineStyle: {color: AXC, width: 1.5}},
    axisTick: {show: true, inside: true, length: 6, lineStyle: {color: '#555', width: 1}},
    axisLabel: {show: showLabel, formatter: v => xTickLabels[Math.round(v / 5000)], fontSize: 23, color: TXT, fontFamily: FONT, margin: 16},
    splitLine: {show: false}
  };
}
function yAx(pos, showLabel) {
  return {
    type: 'value', min: 0, max: 0.1, interval: 0.02, position: pos,
    axisLine: {show: true, onZero: false, lineStyle: {color: AXC, width: 1.5}},
    axisTick: {show: true, inside: true, length: 6, lineStyle: {color: '#555', width: 1}},
    axisLabel: {show: showLabel, formatter: v => yTickLabels[Math.round(v / 0.02)], fontSize: 23, color: TXT, fontFamily: FONT, margin: 12},
    splitLine: {show: false}
  };
}

const xBottom = xAx('bottom', true);
xBottom.name = 's';
xBottom.nameLocation = 'middle';
xBottom.nameGap = 46;
xBottom.nameTextStyle = {fontSize: 23, color: TXT, fontFamily: FONT};

const LINE_ICON = 'path://M0,0L60,0L60,2L0,2Z';

const option = {
  animation: false,
  backgroundColor: '#fff',
  textStyle: {fontFamily: FONT},
  grid: {left: 80, right: 9, top: 44, bottom: 84, containLabel: false},
  xAxis: [xBottom, xAx('top', false)],
  yAxis: [yAx('left', true), yAx('right', false)],
  legend: {
    orient: 'vertical', left: 82, top: 50,
    backgroundColor: '#fff', borderColor: '#8a8a8a', borderWidth: 1.5,
    padding: [9, 15, 8, 9], itemGap: 9.5, itemWidth: 60, itemHeight: 6,
    selectedMode: false,
    textStyle: {fontSize: 23, color: TXT, fontFamily: FONT},
    data: [
      {name: 'RMS', icon: 'circle', itemStyle: {color: '#555', borderWidth: 0}},
      {name: 'Allarm threshold', icon: LINE_ICON, itemStyle: {color: '#ff8000', borderWidth: 0}},
      {name: 'Abort threshold', icon: LINE_ICON, itemStyle: {color: '#ff1a1a', borderWidth: 0}}
    ]
  },
  series: [
    {
      name: 'RMS', type: 'scatter', data: rmsData, xAxisIndex: 0, yAxisIndex: 0,
      symbol: 'circle', symbolSize: 5.8, large: false, largeThreshold: 100000,
      itemStyle: {color: 'rgba(0,0,0,0)', borderColor: '#000', borderWidth: 1.5, opacity: 1},
      emphasis: {disabled: true}
    },
    {
      name: 'Allarm threshold', type: 'line', data: allarmThreshold, symbol: 'none',
      lineStyle: {color: '#ff8000', width: 2}, itemStyle: {color: '#ff8000'}, z: 5
    },
    {
      name: 'Abort threshold', type: 'line', data: abortThreshold, symbol: 'none',
      lineStyle: {color: '#ff1a1a', width: 2}, itemStyle: {color: '#ff1a1a'}, z: 5
    }
  ],
  graphic: [
    {type: 'text', x: 518, y: 21, style: {text: 'RMS', fontSize: 24, fontWeight: 'bold', fontFamily: FONT, fill: '#000', align: 'center', verticalAlign: 'middle'}},
    {type: 'text', x: 940, y: 508, style: {text: '×10', fontSize: 21, fontFamily: FONT, fill: TXT, align: 'right', verticalAlign: 'middle'}},
    {type: 'text', x: 942, y: 502, style: {text: '4', fontSize: 15, fontFamily: FONT, fill: TXT, align: 'left', verticalAlign: 'middle'}}
  ]
};
chart.setOption(option);
</script>
</body>
</html>
